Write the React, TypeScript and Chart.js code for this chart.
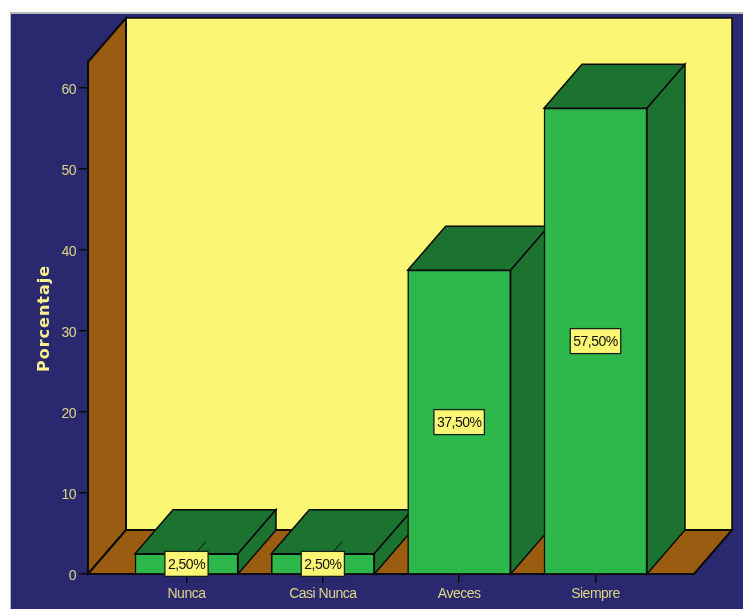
import React, { useEffect, useRef } from "react";
import { Chart, registerables } from "chart.js";

Chart.register(...registerables);

const categories = ["Nunca", "Casi Nunca", "Aveces", "Siempre"];
const percentages = [2.5, 2.5, 37.5, 57.5];
const yTicks = [0, 10, 20, 30, 40, 50, 60];
const yTitle = "Porcentaje";

const NAVY = "#2a2970";
const WALL = "#fbf674";
const BROWN = "#9a5c10";
const GREEN = "#2eb84c";
const DARK_GREEN = "#1c722f";
const INK = "#0a0a0a";
const TEXT = "#dcd583";
const FONT = "'Liberation Sans', Arial, sans-serif";

// Oblique projection offset of the back plane
const DEPTH_X = 38;
const DEPTH_Y = -44;

const W = 743;
const H = 609;

function poly(ctx: CanvasRenderingContext2D, pts: number[][], fill: string, lw = 1.5) {
  ctx.beginPath();
  pts.forEach(([x, y], i) => (i ? ctx.lineTo(x, y) : ctx.moveTo(x, y)));
  ctx.closePath();
  ctx.fillStyle = fill;
  ctx.fill();
  ctx.lineWidth = lw;
  ctx.strokeStyle = INK;
  ctx.lineJoin = "miter";
  ctx.stroke();
}

const box3d = {
  id: "box3d",
  beforeDraw(chart: any) {
    const { ctx } = chart;
    ctx.fillStyle = "#ffffff";
    ctx.fillRect(0, 0, W, H);
    ctx.fillStyle = "#b9b9bd";
    ctx.fillRect(10, 12, W - 10, H - 12);
    ctx.fillStyle = NAVY;
    ctx.fillRect(11, 14, W - 11, H - 14);
    // tighter tracking for the axis tick labels
    (ctx as any).letterSpacing = "-0.5px";
  },
  beforeDatasetsDraw(chart: any) {
    const { ctx, chartArea: a } = chart;
    const { left: l, right: r, top: t, bottom: b } = a;
    const dx = DEPTH_X;
    const dy = DEPTH_Y;
    ctx.save();
    // back wall, side wall, floor
    poly(ctx, [[l + dx, t + dy], [r + dx, t + dy], [r + dx, b + dy], [l + dx, b + dy]], WALL);
    poly(ctx, [[l, t], [l + dx, t + dy], [l + dx, b + dy], [l, b]], BROWN, 2);
    poly(ctx, [[l, b], [l + dx, b + dy], [r + dx, b + dy], [r, b]], BROWN, 2);
    // top and side faces of each bar, left to right
    const bars = chart.getDatasetMeta(0).data;
    bars.forEach((bar: any) => {
      const half = bar.width / 2;
      const x0 = bar.x - half;
      const x1 = bar.x + half;
      poly(ctx, [[x0, bar.y], [x0 + dx, bar.y + dy], [x1 + dx, bar.y + dy], [x1, bar.y]], DARK_GREEN);
      poly(ctx, [[x1, bar.y], [x1 + dx, bar.y + dy], [x1 + dx, b + dy], [x1, b]], DARK_GREEN);
      // leader from the bar's core to its label; the front face hides most of it
      const cy = (bar.y + b) / 2;
      ctx.strokeStyle = INK;
      ctx.lineWidth = 1;
      ctx.beginPath();
      ctx.moveTo(bar.x, cy);
      ctx.lineTo(bar.x + dx / 2, cy + dy / 2);
      ctx.stroke();
    });
    ctx.restore();
  },
  afterDatasetsDraw(chart: any) {
    const { ctx, chartArea: a } = chart;
    const bars = chart.getDatasetMeta(0).data;
    ctx.save();
    ctx.font = `14px ${FONT}`;
    ctx.textAlign = "center";
    ctx.textBaseline = "middle";
    (ctx as any).letterSpacing = "-0.5px";
    bars.forEach((bar: any, i: number) => {
      const cy = (bar.y + a.bottom) / 2;
      const text = percentages[i].toFixed(2).replace(".", ",") + "%";
      const bw = ctx.measureText(text).width + 6;
      const bh = 25;
      ctx.fillStyle = WALL;
      ctx.fillRect(bar.x - bw / 2, cy - bh / 2, bw, bh);
      ctx.strokeStyle = "#14231a";
      ctx.lineWidth = 1.3;
      ctx.strokeRect(bar.x - bw / 2, cy - bh / 2, bw, bh);
      ctx.fillStyle = "#111111";
      ctx.fillText(text, bar.x, cy + 1);
    });
    ctx.restore();
  },
  afterDraw(chart: any) {
    const { ctx } = chart;
    // rotated title of the value axis, with open tracking
    ctx.save();
    ctx.translate(45, 318.5);
    ctx.rotate(-Math.PI / 2);
    ctx.font = "bold 16px 'DejaVu Sans', sans-serif";
    (ctx as any).letterSpacing = "1px";
    ctx.textAlign = "center";
    ctx.textBaseline = "middle";
    ctx.fillStyle = "#f8f18c";
    ctx.fillText(yTitle, 0, 0);
    ctx.restore();
    (ctx as any).letterSpacing = "0px";
  },
};

export default function App() {
  const ref = useRef<HTMLCanvasElement>(null);
  useEffect(() => {
    const canvas = ref.current!;
    const chart = new Chart(canvas, {
      type: "bar",
      data: {
        datasets: [
          {
            data: percentages.map((y, x) => ({ x, y })),
            backgroundColor: GREEN,
            borderColor: INK,
            borderWidth: 1.5,
            barThickness: 103,
          },
        ],
      },
      plugins: [box3d],
      options: {
        animation: false,
        responsive: false,
        devicePixelRatio: 1,
        parsing: false,
        layout: { padding: { top: 62, right: W - 694, bottom: 0, left: 36 } },
        plugins: { legend: { display: false }, tooltip: { enabled: false } },
        scales: {
          x: {
            type: "linear",
            offset: false,
            min: -0.7225,
            max: 3.7226,
            afterBuildTicks(axis: any) {
              axis.ticks = categories.map((_, value) => ({ value }));
            },
            afterFit(axis: any) {
              axis.height = H - 574;
            },
            grid: {
              offset: false,
              drawOnChartArea: false,
              color: INK,
              tickLength: 9,
              lineWidth: 1.5,
            },
            border: { color: INK, width: 2 },
            ticks: {
              autoSkip: false,
              maxRotation: 0,
              color: TEXT,
              padding: 3,
              font: { family: FONT, size: 14 },
              callback: (v: any) => categories[v as number],
            },
          },
          y: {
            min: 0,
            max: 63.2,
            afterBuildTicks(axis: any) {
              axis.ticks = yTicks.map((value) => ({ value }));
            },
            afterFit(axis: any) {
              axis.width = 52;
            },
            grid: {
              drawOnChartArea: false,
              color: INK,
              tickLength: 9,
              lineWidth: 1.5,
            },
            border: { color: INK, width: 2 },
            ticks: {
              color: TEXT,
              padding: 3,
              labelOffset: 2.5,
              font: { family: FONT, size: 14 },
            },
          },
        },
      },
    } as any);
    return () => chart.destroy();
  }, []);
  return (
    <canvas
      ref={ref}
      width={W}
      height={H}
      style={{ position: "absolute", left: 0, top: 0, display: "block" }}
    />
  );
}
